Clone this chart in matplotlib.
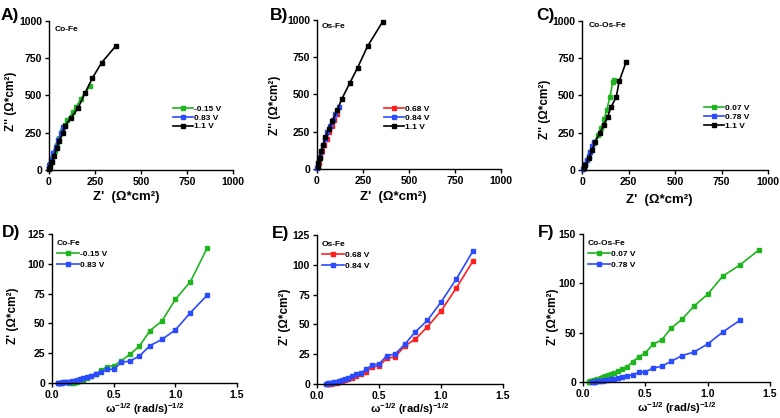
import matplotlib
matplotlib.use("Agg")
from matplotlib import pyplot as plt

plt.rcParams["font.family"] = ["Liberation Sans", "DejaVu Sans"]
plt.rcParams["font.weight"] = "bold"
plt.rcParams["mathtext.default"] = "regular"

GREEN = "#1fb51f"
BLUE = "#2a4bff"
RED = "#ff1f1f"
BLACK = "#000000"

# ---- Nyquist data (Z', Z'') ----
a_black_x = [364, 286, 235, 197, 159, 118, 87, 74, 56, 42, 27, 15, 5, 1]
a_black_y = [834, 720, 615, 519, 418, 347, 295, 246, 197, 146, 94, 56, 22, 5]
a_green_x = [223, 172, 147, 129, 100, 85, 70, 55, 42, 30, 18, 8, 2]
a_green_y = [564, 476, 421, 386, 336, 300, 260, 215, 170, 125, 80, 40, 10]
a_blue_x = [78, 64, 51, 38, 24, 11, 2, 0]
a_blue_y = [287, 246, 201, 156, 112, 67, 34, 12]

b_black_x = [357, 275, 221, 178, 136, 109, 82, 63, 45, 33, 22, 14, 7, 3]
b_black_y = [989, 824, 681, 576, 473, 393, 319, 268, 214, 163, 118, 74, 40, 15]
b_red_x = [109, 95, 80, 65, 52, 40, 28, 18, 10, 4]
b_red_y = [368, 330, 290, 245, 200, 160, 118, 78, 42, 15]
b_blue_x = [118, 100, 85, 70, 56, 43, 31, 20, 11, 5, 1]
b_blue_y = [413, 370, 330, 288, 245, 200, 158, 115, 75, 38, 10]

c_black_x = [237, 200, 184, 155, 138, 116, 95, 71, 54, 36, 18, 9]
c_black_y = [725, 596, 491, 420, 357, 301, 246, 190, 134, 78, 33, 11]
c_green_x = [173, 165, 150, 133, 120, 102, 84, 63, 45, 27, 13, 4]
c_green_y = [607, 588, 490, 405, 345, 280, 234, 179, 123, 67, 22, 5]
c_blue_x = [66, 55, 45, 35, 27, 18, 12, 5]
c_blue_y = [187, 160, 123, 95, 67, 40, 22, 8]

# ---- Randles plots (omega^-1/2, Z') ----
omega_x = [1.259, 1.122, 1.0, 0.891, 0.794, 0.708, 0.631, 0.562, 0.501, 0.447,
           0.398, 0.355, 0.316, 0.282, 0.251, 0.224, 0.2, 0.178, 0.158, 0.141,
           0.126, 0.112, 0.1, 0.089, 0.079, 0.071, 0.063, 0.056, 0.05, 0.045,
           0.04, 0.035]
f_green_x = [1.413] + omega_x

d_green_y = [113.5, 85, 70.2, 52, 43.9, 30.8, 24, 18.7, 14.5, 13.7, 10.5, 7.5,
             5.5, 3.8, 2.5, 1.4, 0.6, 0.2, 0.1, 0.0]
d_blue_y = [73.8, 59, 44.5, 36.6, 31.3, 22.6, 18.4, 17.3, 11.5, 11.5, 9, 7.5,
            6.1, 4.8, 3.9, 3.0, 2.4, 1.9, 1.5, 1.2, 0.9, 0.7, 0.55, 0.45, 0.35,
            0.3, 0.25, 0.2, 0.15, 0.1]
e_red_y = [103.4, 80.3, 61.2, 48.1, 37.7, 32, 22.9, 21.5, 15.1, 14.5, 10.3, 8,
           6.5, 5, 4, 3, 2.3, 1.6, 1.1, 0.8, 0.5, 0.3, 0.2, 0.1]
e_blue_y = [111.8, 87.8, 68.8, 53.4, 43.9, 33.3, 25.2, 23.7, 16.8, 16.2, 12.3,
            9.5, 8, 6.5, 5, 4, 3.3, 2.6, 2, 1.6, 1.2, 0.9, 0.7, 0.5, 0.4, 0.3]
f_green_y = [134, 118.6, 107.4, 88.9, 77, 63.5, 54.7, 42.6, 38.2, 29.7, 25.3,
             20.6, 15.5, 12.9, 11.1, 9.5, 8.1, 6.8, 5.7, 4.7, 3.9, 3.2, 2.6,
             2.1, 1.7, 1.3, 1.0, 0.8, 0.6, 0.4, 0.3]
f_blue_y = [62.5, 50.7, 38.5, 30.4, 26.7, 21, 15.9, 14.2, 10.1, 9.8, 7, 6.4,
            4.8, 4.1, 3.4, 2.8, 2.3, 1.9, 1.5, 1.2, 0.9, 0.7, 0.5, 0.4, 0.3, 0.2]

NYQ_LABEL_X = "Z'  (\u03a9*cm\u00b2)"
NYQ_LABEL_Y = "Z'' (\u03a9*cm\u00b2)"
RAN_LABEL_X = "\u03c9$^{-1/2}$ (rad/s)$^{-1/2}$"
RAN_LABEL_Y = "Z' (\u03a9*cm\u00b2)"


def style_axes(ax, xlim, ylim, xticks, yticks, xfmt):
    for side in ("top", "right"):
        ax.spines[side].set_visible(False)
    for side in ("left", "bottom"):
        ax.spines[side].set_linewidth(1.0)
    ax.set_xlim(xlim)
    ax.set_ylim(ylim)
    ax.set_xticks(xticks)
    ax.set_yticks(yticks)
    ax.set_xticklabels([xfmt(t) for t in xticks])
    ax.tick_params(direction="out", length=3, width=1, labelsize=7.5, pad=2)
    for lab in ax.get_xticklabels() + ax.get_yticklabels():
        lab.set_fontweight("bold")


def labels(ax, xlabel, ylabel, xlsize, xpos, ypos):
    ax.set_xlabel(xlabel, fontsize=xlsize, fontweight="bold", va="center")
    ax.xaxis.set_label_coords(*xpos)
    ax.set_ylabel(ylabel, fontsize=8.5, fontweight="bold", va="center")
    ax.yaxis.set_label_coords(*ypos)


def line(ax, x, y, color, label):
    ax.plot(x, y, color=color, lw=1.2, marker="s", ms=2.2, mec=color,
            mfc=color, label=label, clip_on=False)


fig = plt.figure(figsize=(7.8, 4.18), dpi=100)

nyq_ticks = [0, 250, 500, 750, 1000]
ran_ticks_x = [0.0, 0.5, 1.0, 1.5]

top_boxes = [
    [0.0628, 0.5933, 0.2359, 0.3565],
    [0.4064, 0.5957, 0.2359, 0.3565],
    [0.7462, 0.5933, 0.2385, 0.3565],
]
bottom_boxes = [
    [0.0667, 0.0837, 0.2372, 0.3565],
    [0.4064, 0.0813, 0.2385, 0.3565],
    [0.7474, 0.0861, 0.2397, 0.3540],
]

top_series = [
    ("Co-Fe", [(a_green_x, a_green_y, GREEN, "-0.15 V"),
               (a_blue_x, a_blue_y, BLUE, "0.83 V"),
               (a_black_x, a_black_y, BLACK, "1.1 V")]),
    ("Os-Fe", [(b_red_x, b_red_y, RED, "0.68 V"),
               (b_blue_x, b_blue_y, BLUE, "0.84 V"),
               (b_black_x, b_black_y, BLACK, "1.1 V")]),
    ("Co-Os-Fe", [(c_green_x, c_green_y, GREEN, "0.07 V"),
                  (c_blue_x, c_blue_y, BLUE, "0.78 V"),
                  (c_black_x, c_black_y, BLACK, "1.1 V")]),
]
# where the name, legend and axis labels sit, in axes fractions
top_name_pos = [(0.033, 0.94), (0.025, 0.955), (0.034, 0.973)]
top_leg_pos = [(0.674, 0.351), (0.365, 0.34), (0.656, 0.355)]
top_xlab_pos = [(0.418, -0.18), (0.413, -0.19), (0.414, -0.2)]
top_ylab_pos = [(-0.207, 0.46), (-0.228, 0.43), (-0.199, 0.41)]

bottom_series = [
    ("Co-Fe", [(omega_x[:len(d_green_y)], d_green_y, GREEN, "-0.15 V"),
               (omega_x[:len(d_blue_y)], d_blue_y, BLUE, "0.83 V")],
     [0, 25, 50, 75, 100, 125], 125),
    ("Os-Fe", [(omega_x[:len(e_red_y)], e_red_y, RED, "0.68 V"),
               (omega_x[:len(e_blue_y)], e_blue_y, BLUE, "0.84 V")],
     [0, 25, 50, 75, 100, 125], 125),
    ("Co-Os-Fe", [(f_green_x[:len(f_green_y)], f_green_y, GREEN, "0.07 V"),
                  (omega_x[:len(f_blue_y)], f_blue_y, BLUE, "0.78 V")],
     [0, 50, 100, 150], 150),
]
bottom_xlab_pos = [(0.5, -0.175), (0.5, -0.17), (0.5, -0.175)]
bottom_ylab_pos = [(-0.211, 0.45), (-0.172, 0.45), (-0.16, 0.44)]

letters_top = ["A)", "B)", "C)"]
letters_bottom = ["D)", "E)", "F)"]
letter_pos_top = [(0.001, 0.952), (0.346, 0.952), (0.688, 0.952)]
letter_pos_bottom = [(0.003, 0.433), (0.349, 0.431), (0.69, 0.433)]

for i, (name, series) in enumerate(top_series):
    ax = fig.add_axes(top_boxes[i])
    for x, y, c, lab in series:
        line(ax, x, y, c, lab)
    style_axes(ax, (0, 1000), (0, 1000), nyq_ticks, nyq_ticks,
               lambda t: str(int(t)))
    labels(ax, NYQ_LABEL_X, NYQ_LABEL_Y, 9.5, top_xlab_pos[i], top_ylab_pos[i])
    ax.text(top_name_pos[i][0], top_name_pos[i][1], name,
            transform=ax.transAxes, fontsize=6, fontweight="bold",
            va="center", ha="left")
    ax.legend(loc="center left", bbox_to_anchor=top_leg_pos[i],
              frameon=False, handlelength=2.4, handletextpad=0.1,
              labelspacing=0.12, borderaxespad=0, borderpad=0,
              prop={"weight": "bold", "size": 6})
    fig.text(letter_pos_top[i][0], letter_pos_top[i][1], letters_top[i],
             fontsize=12.5, fontweight="bold", va="baseline", ha="left")

for i, (name, series, yt, ymax) in enumerate(bottom_series):
    ax = fig.add_axes(bottom_boxes[i])
    for x, y, c, lab in series:
        line(ax, x, y, c, lab)
    style_axes(ax, (0, 1.5), (0, ymax), ran_ticks_x, yt,
               lambda t: "%.1f" % t)
    labels(ax, RAN_LABEL_X, RAN_LABEL_Y, 8, bottom_xlab_pos[i],
           bottom_ylab_pos[i])
    leg = ax.legend(loc="upper left", bbox_to_anchor=(0.027, 0.96),
                    frameon=False, title=name, alignment="left",
                    handlelength=2.6, handletextpad=0.1, labelspacing=0.4,
                    borderaxespad=0, borderpad=0,
                    prop={"weight": "bold", "size": 6})
    leg.get_title().set_fontweight("bold")
    leg.get_title().set_fontsize(6)
    fig.text(letter_pos_bottom[i][0], letter_pos_bottom[i][1],
             letters_bottom[i], fontsize=12.5, fontweight="bold",
             va="baseline", ha="left")

fig.savefig("out.png", dpi=100)
